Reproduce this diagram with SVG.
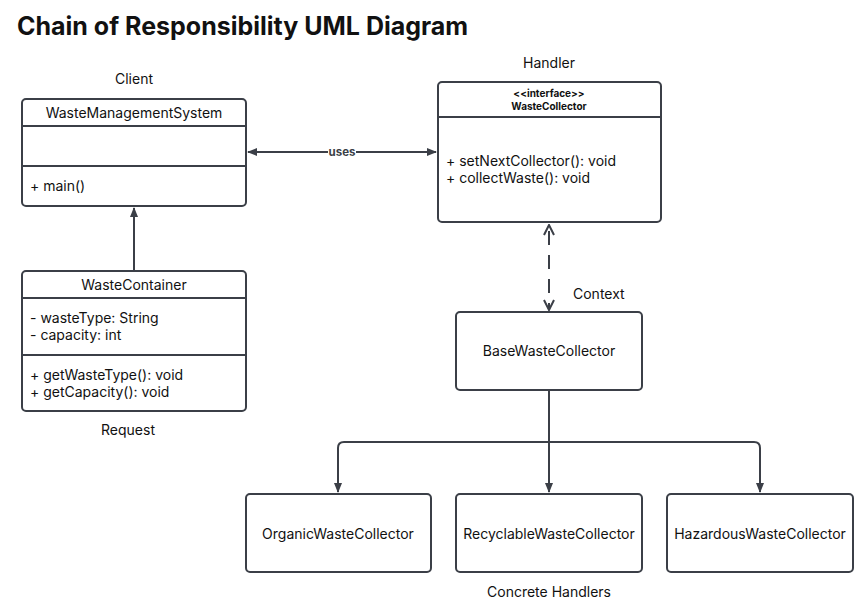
<svg xmlns="http://www.w3.org/2000/svg" width="868" height="612" viewBox="0 0 868 612">
<style>
  text { font-family: Inter, "Liberation Sans", sans-serif; fill: #111; }
  .t { font-size: 14px; }
  .c { text-anchor: middle; }
  .box { fill: #fff; stroke: #3b3f47; stroke-width: 2; }
  .ln { stroke: #3b3f47; stroke-width: 2; fill: none; }
  .b { font-weight: bold; font-size: 10px; }
</style>
<defs>
  <marker id="fa" viewBox="0 0 10 10" refX="9" refY="5" markerWidth="10" markerHeight="10" markerUnits="userSpaceOnUse" orient="auto-start-reverse">
    <path d="M0,1 L10,5 L0,9 z" fill="#3b3f47"/>
  </marker>
  <marker id="oa" viewBox="0 0 12 12" refX="11" refY="6" markerWidth="12" markerHeight="12" markerUnits="userSpaceOnUse" orient="auto-start-reverse">
    <path d="M1,1 L11,6 L1,11" fill="none" stroke="#3b3f47" stroke-width="2"/>
  </marker>
</defs>
<rect width="868" height="612" fill="#fff"/>
<text x="17" y="35" font-weight="bold" style="font-size:25px">Chain of Responsibility UML Diagram</text>

<g id="labels">
  <text class="t c" x="134" y="84">Client</text>
  <text class="t c" x="549" y="68">Handler</text>
  <text class="t" x="573" y="299">Context</text>
  <text class="t c" x="128" y="435">Request</text>
  <text class="t c" x="549" y="597">Concrete Handlers</text>
</g>

<g id="connectors">
  <line class="ln" x1="248" y1="152" x2="436" y2="152" marker-start="url(#fa)" marker-end="url(#fa)"/>
  <rect x="328" y="145" width="28" height="14" fill="#fff"/>
  <text x="342" y="156" class="c" font-weight="bold" style="font-size:11.5px;fill:#3b3f47">uses</text>
  <line class="ln" x1="134" y1="271" x2="134" y2="208" marker-end="url(#fa)"/>
  <line class="ln" x1="549" y1="225" x2="549" y2="310" stroke-dasharray="14,10" stroke-dashoffset="-6" marker-start="url(#oa)" marker-end="url(#oa)"/>
  <path class="ln" d="M549,391 V442"/>
  <path class="ln" d="M549,442 H344 Q338,442 338,448 V492" marker-end="url(#fa)"/>
  <path class="ln" d="M549,442 V492" marker-end="url(#fa)"/>
  <path class="ln" d="M549,442 H754 Q760,442 760,448 V492" marker-end="url(#fa)"/>
</g>

<g id="WasteManagementSystem">
  <rect class="box" x="22" y="99" width="224" height="107" rx="4"/>
  <line class="ln" x1="22" y1="126" x2="246" y2="126"/>
  <line class="ln" x1="22" y1="166" x2="246" y2="166"/>
  <text class="t c" x="134" y="118">WasteManagementSystem</text>
  <text class="t" x="30" y="191">+ main()</text>
</g>

<g id="WasteCollector">
  <rect class="box" x="438" y="82" width="223" height="140" rx="4"/>
  <line class="ln" x1="438" y1="117" x2="661" y2="117"/>
  <text class="b c" x="549" y="97">&lt;&lt;interface&gt;&gt;</text>
  <text class="b c" x="549" y="110">WasteCollector</text>
  <text class="t" x="446" y="166">+ setNextCollector(): void</text>
  <text class="t" x="446" y="183">+ collectWaste(): void</text>
</g>

<g id="WasteContainer">
  <rect class="box" x="22" y="271" width="224" height="140" rx="4"/>
  <line class="ln" x1="22" y1="298" x2="246" y2="298"/>
  <line class="ln" x1="22" y1="355" x2="246" y2="355"/>
  <text class="t c" x="134" y="290">WasteContainer</text>
  <text class="t" x="30" y="323">- wasteType: String</text>
  <text class="t" x="30" y="340">- capacity: int</text>
  <text class="t" x="30" y="380">+ getWasteType(): void</text>
  <text class="t" x="30" y="397">+ getCapacity(): void</text>
</g>

<g id="BaseWasteCollector">
  <rect class="box" x="456" y="312" width="186" height="78" rx="4"/>
  <text class="t c" x="549" y="356">BaseWasteCollector</text>
</g>

<g id="OrganicWasteCollector">
  <rect class="box" x="246" y="494" width="185" height="78" rx="4"/>
  <text class="t c" x="338" y="539">OrganicWasteCollector</text>
</g>

<g id="RecyclableWasteCollector">
  <rect class="box" x="456" y="494" width="186" height="78" rx="4"/>
  <text class="t c" x="549" y="539">RecyclableWasteCollector</text>
</g>

<g id="HazardousWasteCollector">
  <rect class="box" x="667" y="494" width="186" height="78" rx="4"/>
  <text class="t c" x="760" y="539">HazardousWasteCollector</text>
</g>
</svg>
